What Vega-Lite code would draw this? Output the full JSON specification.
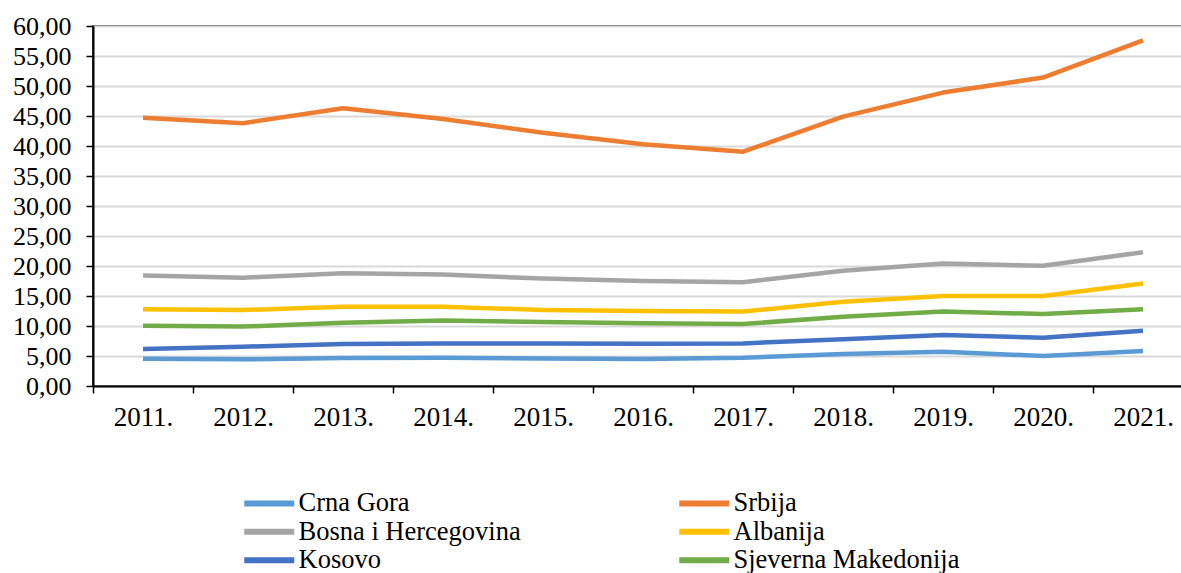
{
  "$schema": "https://vega.github.io/schema/vega-lite/v6.json",
  "autosize": {"type": "none"},
  "padding": {"left": 93, "top": 26, "right": 0, "bottom": 187},
  "width": 1100,
  "height": 360,
  "background": "white",
  "config": {
    "font": "'Liberation Serif', 'Times New Roman', serif",
    "view": {"stroke": "#000000", "strokeWidth": 1.5},
    "axis": {"labelFont": "'Liberation Serif', 'Times New Roman', serif", "labelColor": "#000000", "domainColor": "#000000", "domainWidth": 2, "tickColor": "#000000", "tickWidth": 1.5, "tickSize": 7},
    "legend": {"labelFont": "'Liberation Serif', 'Times New Roman', serif"}
  },
  "data": {
    "values": [
      {"year": "2011", "country": "Crna Gora", "value": 4.55},
      {"year": "2012", "country": "Crna Gora", "value": 4.45},
      {"year": "2013", "country": "Crna Gora", "value": 4.67},
      {"year": "2014", "country": "Crna Gora", "value": 4.7},
      {"year": "2015", "country": "Crna Gora", "value": 4.6},
      {"year": "2016", "country": "Crna Gora", "value": 4.5},
      {"year": "2017", "country": "Crna Gora", "value": 4.7},
      {"year": "2018", "country": "Crna Gora", "value": 5.33},
      {"year": "2019", "country": "Crna Gora", "value": 5.72},
      {"year": "2020", "country": "Crna Gora", "value": 5.0},
      {"year": "2021", "country": "Crna Gora", "value": 5.83},
      {"year": "2011", "country": "Srbija", "value": 44.7},
      {"year": "2012", "country": "Srbija", "value": 43.8},
      {"year": "2013", "country": "Srbija", "value": 46.3},
      {"year": "2014", "country": "Srbija", "value": 44.5},
      {"year": "2015", "country": "Srbija", "value": 42.2},
      {"year": "2016", "country": "Srbija", "value": 40.3},
      {"year": "2017", "country": "Srbija", "value": 39.05},
      {"year": "2018", "country": "Srbija", "value": 44.9},
      {"year": "2019", "country": "Srbija", "value": 48.9},
      {"year": "2020", "country": "Srbija", "value": 51.4},
      {"year": "2021", "country": "Srbija", "value": 57.6},
      {"year": "2011", "country": "Bosna i Hercegovina", "value": 18.4},
      {"year": "2012", "country": "Bosna i Hercegovina", "value": 18.05},
      {"year": "2013", "country": "Bosna i Hercegovina", "value": 18.8},
      {"year": "2014", "country": "Bosna i Hercegovina", "value": 18.6},
      {"year": "2015", "country": "Bosna i Hercegovina", "value": 17.9},
      {"year": "2016", "country": "Bosna i Hercegovina", "value": 17.5},
      {"year": "2017", "country": "Bosna i Hercegovina", "value": 17.3},
      {"year": "2018", "country": "Bosna i Hercegovina", "value": 19.2},
      {"year": "2019", "country": "Bosna i Hercegovina", "value": 20.4},
      {"year": "2020", "country": "Bosna i Hercegovina", "value": 20.05},
      {"year": "2021", "country": "Bosna i Hercegovina", "value": 22.3},
      {"year": "2011", "country": "Albanija", "value": 12.8},
      {"year": "2012", "country": "Albanija", "value": 12.67},
      {"year": "2013", "country": "Albanija", "value": 13.2},
      {"year": "2014", "country": "Albanija", "value": 13.2},
      {"year": "2015", "country": "Albanija", "value": 12.67},
      {"year": "2016", "country": "Albanija", "value": 12.5},
      {"year": "2017", "country": "Albanija", "value": 12.4},
      {"year": "2018", "country": "Albanija", "value": 14.05},
      {"year": "2019", "country": "Albanija", "value": 15.0},
      {"year": "2020", "country": "Albanija", "value": 15.0},
      {"year": "2021", "country": "Albanija", "value": 17.1},
      {"year": "2011", "country": "Kosovo", "value": 6.17},
      {"year": "2012", "country": "Kosovo", "value": 6.55},
      {"year": "2013", "country": "Kosovo", "value": 7.0},
      {"year": "2014", "country": "Kosovo", "value": 7.1},
      {"year": "2015", "country": "Kosovo", "value": 7.1},
      {"year": "2016", "country": "Kosovo", "value": 7.05},
      {"year": "2017", "country": "Kosovo", "value": 7.1},
      {"year": "2018", "country": "Kosovo", "value": 7.8},
      {"year": "2019", "country": "Kosovo", "value": 8.5},
      {"year": "2020", "country": "Kosovo", "value": 8.05},
      {"year": "2021", "country": "Kosovo", "value": 9.2},
      {"year": "2011", "country": "Sjeverna Makedonija", "value": 10.05},
      {"year": "2012", "country": "Sjeverna Makedonija", "value": 9.9},
      {"year": "2013", "country": "Sjeverna Makedonija", "value": 10.55},
      {"year": "2014", "country": "Sjeverna Makedonija", "value": 10.9},
      {"year": "2015", "country": "Sjeverna Makedonija", "value": 10.67},
      {"year": "2016", "country": "Sjeverna Makedonija", "value": 10.45},
      {"year": "2017", "country": "Sjeverna Makedonija", "value": 10.33},
      {"year": "2018", "country": "Sjeverna Makedonija", "value": 11.55},
      {"year": "2019", "country": "Sjeverna Makedonija", "value": 12.4},
      {"year": "2020", "country": "Sjeverna Makedonija", "value": 12.0},
      {"year": "2021", "country": "Sjeverna Makedonija", "value": 12.8}
    ]
  },
  "mark": {"type": "line", "strokeWidth": 4.5, "strokeJoin": "round", "strokeCap": "butt"},
  "encoding": {
    "x": {
      "field": "year", "type": "nominal", "title": null,
      "scale": {"paddingInner": 0, "paddingOuter": 0},
      "axis": {"labelAngle": 0, "tickBand": "extent", "labelFontSize": 27, "labelPadding": 11, "labelExpr": "datum.label ? datum.label + '.' : ''", "grid": false}
    },
    "y": {
      "field": "value", "type": "quantitative", "title": null,
      "scale": {"domain": [0, 60], "nice": false},
      "axis": {"values": [0,5,10,15,20,25,30,35,40,45,50,55,60], "labelFontSize": 26, "labelExpr": "replace(format(datum.value, '.2f'), '.', ',')", "labelPadding": 15, "gridColor": "#D9D9D9", "gridWidth": 2}
    },
    "color": {
      "field": "country", "type": "nominal",
      "scale": {
        "domain": ["Crna Gora", "Bosna i Hercegovina", "Kosovo", "Srbija", "Albanija", "Sjeverna Makedonija"],
        "range": ["#5B9BD5", "#A5A5A5", "#4472C4", "#ED7D31", "#FFC000", "#70AD47"]
      },
      "legend": {
        "title": null, "orient": "none", "legendX": 178, "legendY": 464, "direction": "vertical",
        "columns": 2, "columnPadding": 146, "rowPadding": 1.5, "padding": 0,
        "symbolType": "M-4,0H1", "symbolSize": 400, "symbolStrokeWidth": 6,
        "labelFont": "'Liberation Serif', 'Times New Roman', serif", "labelFontSize": 26.5, "labelColor": "#000000", "labelOffset": 1, "labelLimit": 400
      }
    }
  }
}
